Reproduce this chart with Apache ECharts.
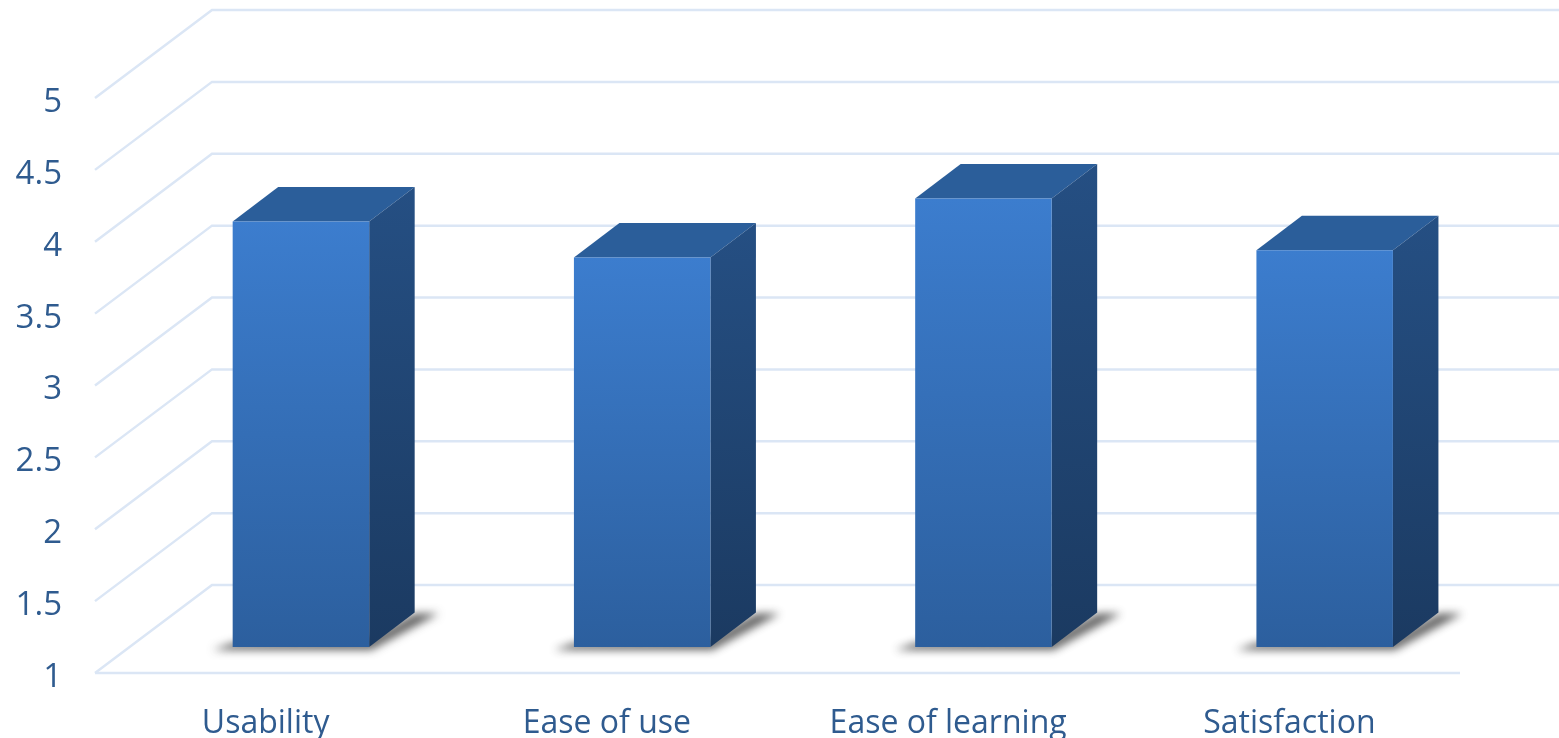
<!DOCTYPE html>
<html>
<head>
<meta charset="utf-8">
<script src="https://cdn.jsdelivr.net/npm/echarts@6/dist/echarts.min.js"></script>
<style>html,body{margin:0;padding:0;background:#fff}#c{width:1559px;height:738px}</style>
</head>
<body>
<div id="c"></div>
<script>
const categories = ['Usability', 'Ease of use', 'Ease of learning', 'Satisfaction'];
const scores = [3.96, 3.71, 4.12, 3.76];
const yTicks = [1, 1.5, 2, 2.5, 3, 3.5, 4, 4.5, 5];

const WALL_DX = 117, WALL_DY = -88;   // front plane -> back wall
const BAR_DX = 35.3, BAR_DY = -26;    // front plane -> bar front face
const DEPTH_DX = 45.5, DEPTH_DY = -34.5;  // bar depth
const BAR_W = 136.5;
const GRID_COLOR = '#dbe6f5';
const TEXT_COLOR = '#2f5b8f';
const OFF = 3000; // shape is drawn off-canvas so that only its blurred shadow shows

const grad = (c0, c1) => ({type: 'linear', x: 0, y: 0, x2: 0, y2: 1, colorStops: [{offset: 0, color: c0}, {offset: 1, color: c1}]});

function renderGrid(params, api) {
  const cs = params.coordSys;
  const v = api.value(0);
  const y = api.coord([0, v])[1];
  const x0 = cs.x, x1 = cs.x + cs.width;
  const lineStyle = {stroke: GRID_COLOR, lineWidth: 2.5, fill: null, lineJoin: 'miter'};
  const children = [{
    type: 'polyline',
    shape: {points: [[x0, y], [x0 + WALL_DX, y + WALL_DY], [x1 + WALL_DX, y + WALL_DY]]},
    style: lineStyle
  }];
  if (v === yTicks[0]) {
    children.push({type: 'line', shape: {x1: x0, y1: y, x2: x1, y2: y}, style: {stroke: GRID_COLOR, lineWidth: 2.5}});
  }
  return {type: 'group', children};
}

function renderBar(params, api) {
  const i = api.value(0), v = api.value(1);
  const top = api.coord([i, v]), base = api.coord([i, yTicks[0]]);
  const xl = top[0] + BAR_DX - BAR_W / 2, xr = xl + BAR_W;
  const yt = top[1] + BAR_DY, yb = base[1] + BAR_DY;
  const dx = DEPTH_DX, dy = DEPTH_DY;
  const shadowPts = [[xl - 20, yb + 3], [xr + 2, yb + 3], [xr + dx + 24, yb + dy + 1], [xr + dx, yb + dy + 1], [xr, yb - 8], [xl, yb - 4]];
  return {type: 'group', children: [
    {type: 'polygon',
     shape: {points: shadowPts.map(p => [p[0] - OFF, p[1]])},
     style: {fill: '#000', shadowBlur: 9, shadowColor: 'rgba(40,40,40,0.72)', shadowOffsetX: OFF}},
    {type: 'polygon',
     shape: {points: [[xl, yt], [xl + dx, yt + dy], [xr + dx, yt + dy], [xr, yt]]},
     style: {fill: '#2b5e9a'}},
    {type: 'polygon',
     shape: {points: [[xr, yt], [xr + dx, yt + dy], [xr + dx, yb + dy], [xr, yb]]},
     style: {fill: grad('#254f83', '#1b3a61')}},
    {type: 'rect',
     shape: {x: xl, y: yt, width: BAR_W, height: yb - yt},
     style: {fill: grad('#3c7dce', '#2c5f9e')}}
  ]};
}

const chart = echarts.init(document.getElementById('c'), null, {renderer: 'canvas'});
chart.setOption({
  animation: false,
  backgroundColor: '#ffffff',
  grid: {left: 95, right: 99, top: 98, bottom: 65, containLabel: false, outerBoundsMode: 'none'},
  xAxis: {
    type: 'category', data: categories,
    axisLine: {show: false}, axisTick: {show: false}, splitLine: {show: false},
    axisLabel: {color: TEXT_COLOR, fontFamily: 'Open Sans', fontSize: 32, margin: 35, interval: 0}
  },
  yAxis: {
    type: 'value', min: 1, max: 5, interval: 0.5,
    axisLine: {show: false}, axisTick: {show: false}, splitLine: {show: false},
    axisLabel: {color: TEXT_COLOR, fontFamily: 'Open Sans', fontSize: 33, margin: 33, verticalAlign: 'top', lineHeight: 9}
  },
  series: [
    {type: 'custom', z: 1, silent: true, clip: false, coordinateSystem: 'cartesian2d',
     encode: {y: 0}, data: yTicks.map(v => [v]), renderItem: renderGrid},
    {type: 'custom', z: 2, silent: true, clip: false, coordinateSystem: 'cartesian2d',
     encode: {x: 0, y: 1}, data: scores.map((v, i) => [i, v]), renderItem: renderBar}
  ]
});
</script>
</body>
</html>
